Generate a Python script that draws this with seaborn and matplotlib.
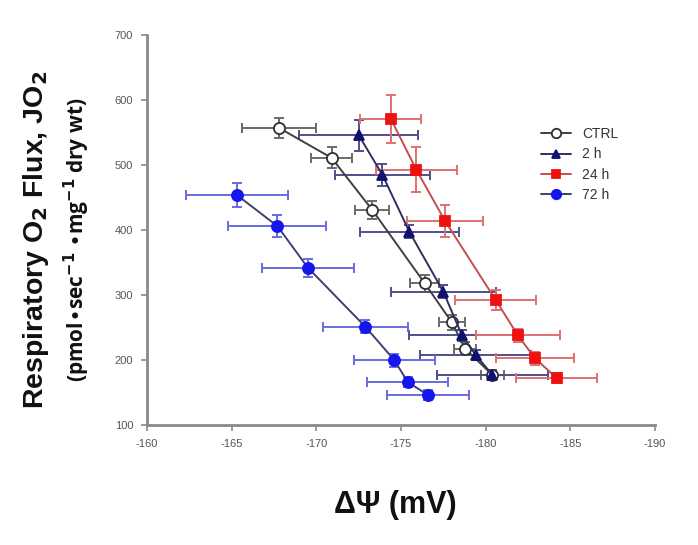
import numpy as np
import pandas as pd
import matplotlib
matplotlib.use("Agg")
import matplotlib.pyplot as plt
import seaborn as sns

# ---- data ----
groups = ["CTRL", "2 h", "24 h", "72 h"]

ctrl_x = [-167.8, -170.9, -173.3, -176.4, -178.0, -178.8, -180.4]
ctrl_y = [557, 511, 431, 318, 258, 217, 177]
ctrl_xerr = [2.2, 1.2, 1.0, 0.85, 0.75, 0.65, 0.7]
ctrl_yerr = [16, 16, 14, 13, 12, 10, 8]

h2_x = [-172.5, -173.9, -175.5, -177.5, -178.6, -179.4, -180.4]
h2_y = [546, 485, 397, 305, 238, 208, 177]
h2_xerr = [3.5, 2.8, 2.9, 3.1, 3.1, 3.3, 3.3]
h2_yerr = [24, 17, 10, 10, 8, 8, 8]

h24_x = [-174.4, -175.9, -177.6, -180.6, -181.9, -182.9, -184.2]
h24_y = [571, 493, 414, 292, 238, 203, 172]
h24_xerr = [1.8, 2.4, 2.25, 2.4, 2.5, 2.3, 2.4]
h24_yerr = [37, 34, 25, 15, 10, 10, 8]

h72_x = [-165.3, -167.7, -169.5, -172.9, -174.6, -175.4, -176.6]
h72_y = [454, 406, 342, 251, 200, 166, 146]
h72_xerr = [3.0, 2.9, 2.7, 2.5, 2.4, 2.4, 2.4]
h72_yerr = [19, 17, 14, 10, 10, 8, 8]

x_ticks = [-160, -165, -170, -175, -180, -185, -190]
y_ticks = [100, 200, 300, 400, 500, 600, 700]

# ---- build table ----
frames = []
for g, xs, ys, xe, ye in [
    ("CTRL", ctrl_x, ctrl_y, ctrl_xerr, ctrl_yerr),
    ("2 h", h2_x, h2_y, h2_xerr, h2_yerr),
    ("24 h", h24_x, h24_y, h24_xerr, h24_yerr),
    ("72 h", h72_x, h72_y, h72_xerr, h72_yerr),
]:
    frames.append(pd.DataFrame({"group": g, "dpsi": xs, "jo2": ys,
                                "xerr": xe, "yerr": ye, "order": range(len(xs))}))
df = pd.concat(frames, ignore_index=True)

sns.set_style("white")
plt.rcParams["font.family"] = ["Liberation Sans", "DejaVu Sans"]

styles = {
    "CTRL": dict(line="#404040", mfc="white", mec="#303030", marker="o", ms=8, err="#6a6a6a"),
    "2 h": dict(line="#303060", mfc="#10106e", mec="#10106e", marker="^", ms=7, err="#50508a"),
    "24 h": dict(line="#c05050", mfc="#ee1111", mec="#ee1111", marker="s", ms=7, err="#e07070"),
    "72 h": dict(line="#404070", mfc="#1515ee", mec="#1515ee", marker="o", ms=8, err="#6a6ae0"),
}

fig = plt.figure(figsize=(6.98, 5.45), dpi=100)
ax = fig.add_axes([147 / 698, 1 - 425 / 545, (655 - 147) / 698, (425 - 35) / 545])

for g in groups:
    sub = df[df.group == g]
    st = styles[g]
    ax.errorbar(sub.dpsi, sub.jo2, xerr=sub.xerr, yerr=sub.yerr, fmt="none",
                ecolor=st["err"], elinewidth=1.4, capsize=3.5, capthick=1.4, zorder=2)

for g in groups:
    sub = df[df.group == g]
    st = styles[g]
    sns.lineplot(data=sub, x="dpsi", y="jo2", sort=False, ax=ax, color=st["line"],
                 linewidth=1.4, marker=st["marker"], markersize=st["ms"],
                 markerfacecolor=st["mfc"], markeredgecolor=st["mec"],
                 markeredgewidth=1.3, label=g, zorder=3)

ax.set_xlim(-160, -190)
ax.set_ylim(100, 700)
ax.set_xticks(x_ticks)
ax.set_yticks(y_ticks)
ax.set_xticklabels([str(v) for v in x_ticks])
ax.set_yticklabels([str(v) for v in y_ticks])
for s in ["top", "right"]:
    ax.spines[s].set_visible(False)
for s in ["left", "bottom"]:
    ax.spines[s].set_color("#8a8a8a")
    ax.spines[s].set_linewidth(2)
ax.tick_params(axis="both", which="major", direction="out", length=4, width=1.2,
               color="#8a8a8a", labelsize=8, labelcolor="#555555", pad=6,
               left=True, bottom=True)
ax.set_xlabel("")
ax.set_ylabel("")

leg = ax.legend(loc="upper left", bbox_to_anchor=(0.764, 0.778), frameon=False,
                fontsize=10, handlelength=2.15, labelspacing=0.45, handletextpad=0.85,
                borderaxespad=0, markerscale=0.85)
for t in leg.get_texts():
    t.set_color("#333333")

fig.text(36 / 698, 1 - 240 / 545, r"Respiratory O$_\mathbf{2}$ Flux, JO$_\mathbf{2}$",
         rotation=90, ha="center", va="center", fontsize=20.5, fontweight="bold",
         color="#111111")
fig.text(77 / 698, 1 - 240 / 545,
         r"(pmol$\bullet$sec$^{\mathbf{-1}}$ $\bullet$mg$^{\mathbf{-1}}$ dry wt)",
         rotation=90, ha="center", va="center", fontsize=15, fontweight="bold",
         color="#111111", family=["Open Sans", "DejaVu Sans"])
fig.text(395 / 698, 1 - 505 / 545, "ΔΨ (mV)", ha="center", va="center",
         fontsize=22, fontweight="bold", color="#111111")

fig.savefig("out.png", dpi=100)
